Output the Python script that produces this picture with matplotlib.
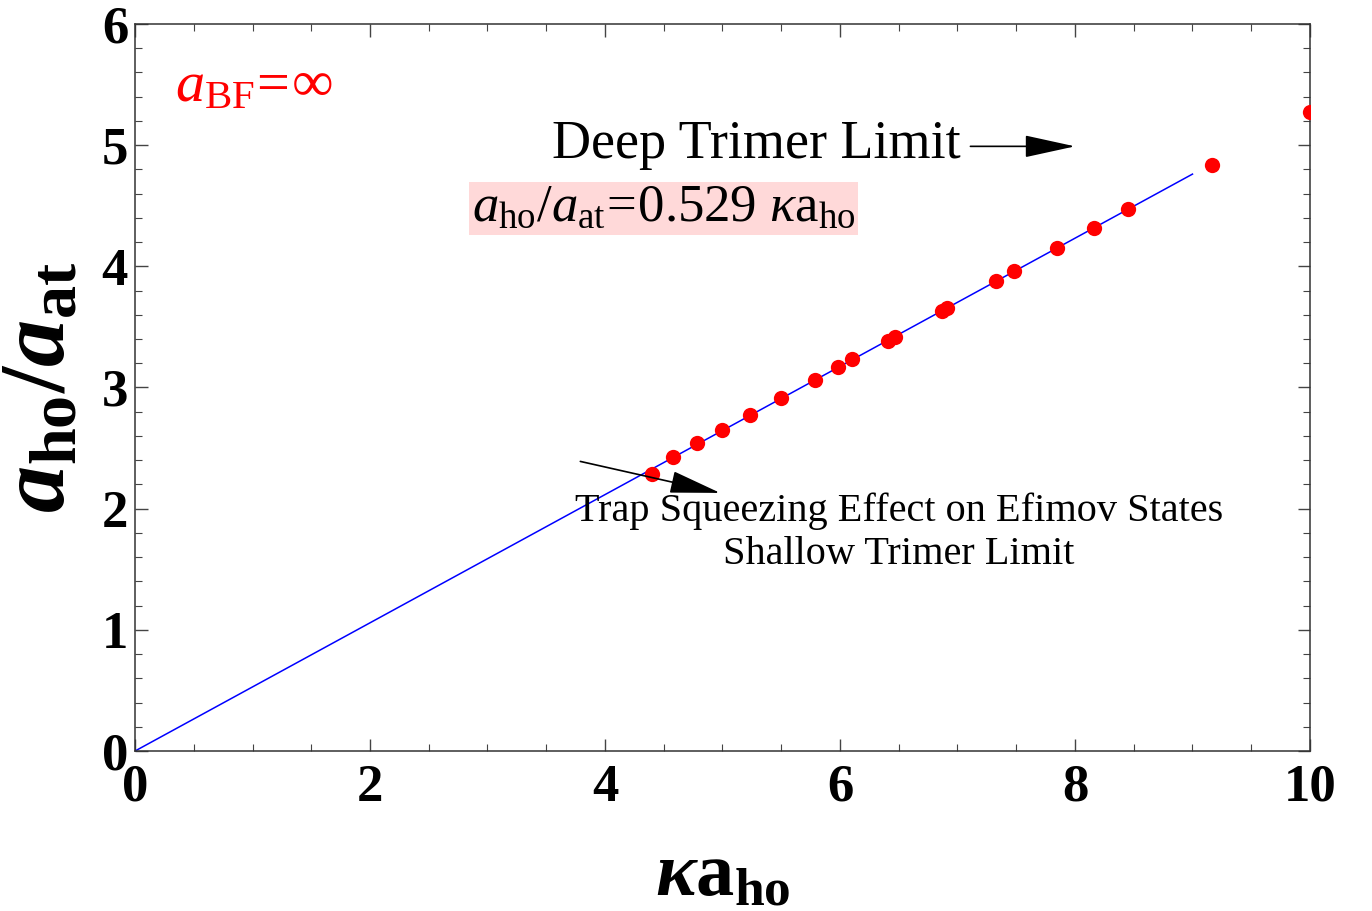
import numpy as np
import matplotlib.pyplot as plt
from matplotlib.ticker import MultipleLocator

plt.rcParams['font.family'] = 'Liberation Serif'
plt.rcParams['mathtext.fontset'] = 'custom'
plt.rcParams['mathtext.rm'] = 'Liberation Serif'
plt.rcParams['mathtext.it'] = 'Liberation Serif:italic'
plt.rcParams['mathtext.bf'] = 'Liberation Serif:bold'
plt.rcParams['mathtext.bfit'] = 'Liberation Serif:bold:italic'

# data
kappa_aho = [4.40, 4.58, 4.78, 5.00, 5.23, 5.50, 5.79, 5.98, 6.10, 6.41,
             6.47, 6.87, 6.91, 7.33, 7.48, 7.85, 8.16, 8.45, 9.17, 10.0]
aho_aat = [2.29, 2.43, 2.54, 2.65, 2.77, 2.91, 3.06, 3.17, 3.235, 3.38,
           3.42, 3.63, 3.66, 3.88, 3.96, 4.15, 4.32, 4.47, 4.84, 5.27]

slope = 0.529
fit_x = [0, 9.0]

fig = plt.figure(figsize=(13.72, 9.11), dpi=100)
ax = fig.add_axes([0.0984, 0.1756, 0.8564, 0.7981])

ax.plot(fit_x, [slope * v for v in fit_x], color='blue', lw=1.1, zorder=2)
ax.plot(kappa_aho, aho_aat, 'o', color='red', ms=11, mec='none', zorder=3)

ax.set_xlim(0, 10)
ax.set_ylim(0, 6)
ax.xaxis.set_major_locator(MultipleLocator(2))
ax.xaxis.set_minor_locator(MultipleLocator(0.5))
ax.yaxis.set_major_locator(MultipleLocator(1))
ax.yaxis.set_minor_locator(MultipleLocator(0.2))
ax.tick_params(which='both', direction='in', top=True, right=True, color='#444444')
ax.tick_params(which='major', length=9, width=1)
ax.tick_params(which='minor', length=5, width=0.8)
ax.tick_params(axis='x', which='major', pad=9)
ax.tick_params(axis='y', which='major', pad=5)
for lab in ax.get_xticklabels() + ax.get_yticklabels():
    lab.set_fontsize(38)
    lab.set_fontweight('bold')
for sp in ax.spines.values():
    sp.set_color('#333333')
    sp.set_linewidth(1.1)

ax.set_xlabel(r'$\mathbfit{\kappa}\mathbf{a}_{\mathbf{ho}}$', fontsize=55, labelpad=22)
ax.set_ylabel(r'$\mathbfit{a}_{\mathbf{ho}}\mathbf{/}\mathbfit{a}_{\mathbf{at}}$', fontsize=68, labelpad=12)

ax.text(0.34, 5.48, r'$a_{\mathrm{BF}}\!=\!\infty$', color='red', fontsize=42,
        ha='left', va='center')

arrow_style = dict(arrowstyle='-|>,head_length=1.6,head_width=0.35',
                   color='black', lw=1.2, mutation_scale=20,
                   shrinkA=0, shrinkB=0)

ax.text(5.29, 5.0, 'Deep Trimer Limit', fontsize=39, ha='center', va='center')
ax.annotate('', xy=(8.0, 4.99), xytext=(7.11, 4.99), arrowprops=arrow_style)

ax.text(4.50, 4.48, r'$a_{\mathrm{ho}}/a_{\mathrm{at}}\!=\!0.529\ \kappa\mathrm{a}_{\mathrm{ho}}$',
        fontsize=38, ha='center', va='center',
        bbox=dict(boxstyle='square,pad=0.05', fc='#FFD9D9', ec='none'))

ax.annotate('', xy=(4.98, 2.13), xytext=(3.79, 2.39), arrowprops=arrow_style)
ax.text(6.50, 1.80, 'Trap Squeezing Effect on Efimov States\nShallow Trimer Limit',
        fontsize=29, ha='center', va='center', linespacing=1.2)

fig.savefig('out.png', dpi=100)
